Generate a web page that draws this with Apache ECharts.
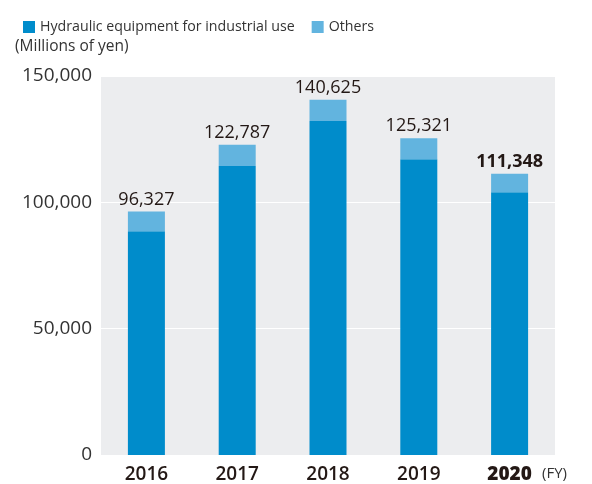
<!DOCTYPE html>
<html><head><meta charset="utf-8">
<script src="https://cdn.jsdelivr.net/npm/echarts@6/dist/echarts.min.js"></script>
<style>html,body{margin:0;padding:0;background:#fff}#c{width:592px;height:484px}</style>
</head><body><div id="c"></div>
<script>
const categories = ['2016', '2017', '2018', '2019', '2020'];
const hydraulic = [88600, 114400, 132200, 117100, 104000];
const others = [7727, 8387, 8425, 8221, 7348];
const totals = [96327, 122787, 140625, 125321, 111348];
const yTicks = [0, 50000, 100000, 150000];

const fmt = v => v.toLocaleString('en-US');
const chart = echarts.init(document.getElementById('c'));
chart.setOption({
  animation: false,
  textStyle: { fontFamily: 'Open Sans' },
  legend: {
    left: 18, top: 15, itemWidth: 12, itemHeight: 12, itemGap: 17,
    icon: 'rect',
    textStyle: { fontSize: 14.2, color: '#333', fontFamily: 'Open Sans' },
    data: ['Hydraulic equipment for industrial use', 'Others']
  },
  graphic: [
    { type: 'text', left: 15, top: 39, style: { text: '(Millions of yen)', fontSize: 15.5, fill: '#333', fontFamily: 'Open Sans' } },
    { type: 'text', left: 542, top: 466, style: { text: '(FY)', fontSize: 15, fill: '#333', fontFamily: 'Open Sans' } }
  ],
  grid: { left: 101, right: 37, top: 76, bottom: 29, show: true, backgroundColor: '#ecedef', borderWidth: 0 },
  xAxis: {
    type: 'category', data: categories,
    axisLine: { show: false }, axisTick: { show: false },
    axisLabel: {
      interval: 0, margin: 10, fontSize: 19, color: '#231815', fontFamily: 'Open Sans',
      formatter: (v) => v === '2020' ? '{b|' + v + '}' : '{n|' + v + '}',
      rich: {
        n: { fontSize: 19, fontWeight: 600, color: '#231815', fontFamily: 'Open Sans' },
        b: { fontSize: 19, fontWeight: 800, color: '#231815', fontFamily: 'Open Sans' }
      }
    }
  },
  yAxis: {
    type: 'value', min: yTicks[0], max: yTicks[yTicks.length - 1], interval: 50000,
    axisLine: { show: false }, axisTick: { show: false },
    splitLine: { lineStyle: { color: '#ffffff', width: 1 } },
    axisLabel: { margin: 9, fontSize: 19, color: '#333', fontFamily: 'Open Sans', formatter: v => fmt(v) }
  },
  series: [
    {
      name: 'Hydraulic equipment for industrial use', type: 'bar', stack: 't',
      data: hydraulic, barWidth: 37, itemStyle: { color: '#008ccb' }
    },
    {
      name: 'Others', type: 'bar', stack: 't',
      data: others, barWidth: 37, itemStyle: { color: '#62b4df' },
      label: {
        show: true, position: 'top', distance: 3,
        formatter: p => p.dataIndex === 4 ? '{b|' + fmt(totals[p.dataIndex]) + '}' : '{n|' + fmt(totals[p.dataIndex]) + '}',
        rich: {
          n: { fontSize: 18, color: '#231815', fontFamily: 'Open Sans' },
          b: { fontSize: 18, fontWeight: 'bold', color: '#231815', fontFamily: 'Open Sans' }
        }
      }
    }
  ]
});
</script></body></html>
